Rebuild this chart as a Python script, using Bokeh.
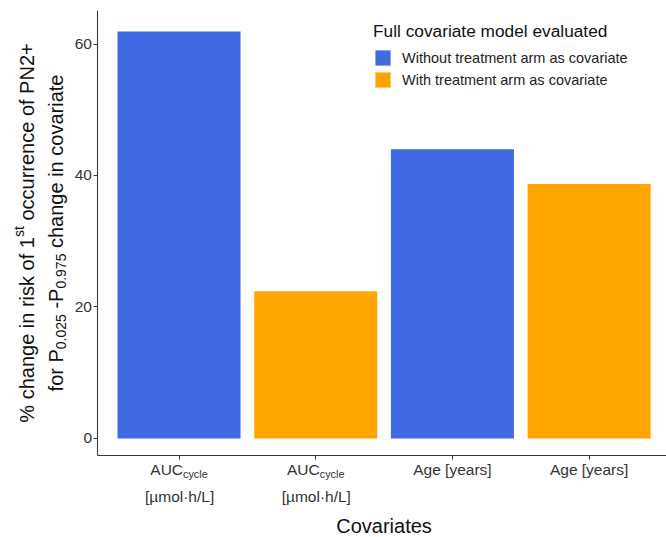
import math
from bokeh.plotting import figure
from bokeh.models import (Range1d, FixedTicker, Label, Legend, LegendItem,
                          ColumnDataSource)
from bokeh.embed import file_html
from bokeh.resources import INLINE

# ---------------- data ----------------
positions = [1, 2, 3, 4]
values = [61.9, 22.4, 44.0, 38.7]
groups = ["Without treatment arm as covariate", "With treatment arm as covariate",
          "Without treatment arm as covariate", "With treatment arm as covariate"]
group_order = ["Without treatment arm as covariate", "With treatment arm as covariate"]
group_colors = ["#4169E1", "#FFA500"]
y_ticks = [0, 20, 40, 60]
# tick labels: list of lines, each line a list of (text, kind) segments
auc_label = [[("AUC", "n"), ("cycle", "sub")], [("[µmol·h/L]", "n")]]
age_label = [[("Age [years]", "n")]]
tick_labels = [auc_label, auc_label, age_label, age_label]
y_title_lines = [
    [("% change in risk of 1", "n"), ("st", "sup"), (" occurrence of PN2+", "n")],
    [("for P", "n"), ("0.025", "sub"), (" -P", "n"), ("0.975", "sub"),
     (" change in covariate", "n")],
]
x_title = "Covariates"
legend_title = "Full covariate model evaluated"

# ---------------- layout ----------------
FONT = "Liberation Sans"
CANVAS_W, CANVAS_H = 666, 537
X_PANEL = (0.4, 4.6)          # ggplot-like panel limits (data)
Y_PANEL = (-2.6, 65.1)
PANEL_LEFT_PX, PANEL_TOP_PX, PANEL_BOTTOM_PX = 96.5, 10.0, 455.0
PX_PER_X = 136.7
PX_PER_Y = (PANEL_BOTTOM_PX - PANEL_TOP_PX) / (Y_PANEL[1] - Y_PANEL[0])
# the frame covers the whole canvas; the panel is a sub-region of it
x_start = X_PANEL[0] - PANEL_LEFT_PX / PX_PER_X
x_end = X_PANEL[0] + (CANVAS_W - PANEL_LEFT_PX) / PX_PER_X
y_end = Y_PANEL[1] + PANEL_TOP_PX / PX_PER_Y
y_start = Y_PANEL[0] - (CANVAS_H - PANEL_BOTTOM_PX) / PX_PER_Y

# Arial / Liberation Sans advance widths (1/1000 em)
W = {' ': 278, '%': 889, '+': 584, '-': 333, '.': 278, '/': 278, '[': 278, ']': 278,
     '·': 278, 'µ': 556,
     'A': 667, 'C': 722, 'F': 611, 'L': 556, 'N': 722, 'P': 667, 'U': 722, 'W': 944,
     'a': 556, 'b': 556, 'c': 500, 'd': 556, 'e': 556, 'f': 278, 'g': 556, 'h': 556,
     'i': 222, 'j': 222, 'k': 500, 'l': 222, 'm': 833, 'n': 556, 'o': 556, 'p': 556,
     'q': 556, 'r': 333, 's': 500, 't': 278, 'u': 556, 'v': 500, 'w': 722, 'x': 500,
     'y': 500, 'z': 500}
for d in "0123456789":
    W[d] = 556


def text_w(s, size):
    return sum(W.get(ch, 556) for ch in s) / 1000.0 * size


SCRIPT = 0.7


def seg_size(kind, base):
    return base * SCRIPT if kind in ("sub", "sup") else base


def seg_shift(kind, base):
    return {"n": 0.0, "sup": 0.42 * base, "sub": -0.27 * base}[kind]


def line_width(segs, base):
    return sum(text_w(t, seg_size(k, base)) for t, k in segs)


def add_rich(p, segs, x, y, base, color, rotated=False, x_off=0.0, y_off=0.0):
    total = line_width(segs, base)
    pos = -total / 2.0
    for t, k in segs:
        sz = seg_size(k, base)
        sh = seg_shift(k, base)
        stripped = t.lstrip(" ")
        lead = text_w(t[:len(t) - len(stripped)], sz)
        if rotated:
            xo, yo, ang = x_off - sh, y_off + pos + lead, math.pi / 2
        else:
            xo, yo, ang = x_off + pos + lead, y_off + sh, 0.0
        p.add_layout(Label(x=x, y=y, x_offset=xo, y_offset=yo, text=stripped,
                           angle=ang, text_align="left", text_baseline="alphabetic",
                           text_font=FONT, text_font_size=f"{sz:.2f}px",
                           text_color=color))
        pos += text_w(t, sz)


p = figure(width=CANVAS_W, height=CANVAS_H, output_backend="svg",
           toolbar_location=None,
           x_range=Range1d(x_start, x_end), y_range=Range1d(y_start, y_end),
           min_border=0)
p.outline_line_color = None
p.xgrid.visible = False
p.ygrid.visible = False
p.background_fill_color = "white"
p.border_fill_color = "white"

renderers = []
for g, c in zip(group_order, group_colors):
    idx = [i for i, gg in enumerate(groups) if gg == g]
    src = ColumnDataSource(dict(x=[positions[i] for i in idx],
                                top=[values[i] for i in idx]))
    r = p.vbar(x="x", top="top", bottom=0, width=0.9, source=src,
               fill_color=c, line_color=None)
    renderers.append(r)

for ax in (p.xaxis[0], p.yaxis[0]):
    ax.axis_line_color = "#3a3a3a"
    ax.axis_line_width = 1.1
    ax.major_tick_line_color = "#3a3a3a"
    ax.major_tick_line_width = 1.1
    ax.major_tick_in = 0
    ax.major_tick_out = 4
    ax.minor_tick_line_color = None

p.xaxis.fixed_location = Y_PANEL[0]
p.xaxis.bounds = X_PANEL
p.xaxis.ticker = FixedTicker(ticks=positions)
p.xaxis.major_label_overrides = {x: "" for x in positions}

p.yaxis.fixed_location = X_PANEL[0]
p.yaxis.bounds = Y_PANEL
p.yaxis.ticker = FixedTicker(ticks=y_ticks)
p.yaxis.major_label_text_font = FONT
p.yaxis.major_label_text_font_size = "15.5px"
p.yaxis.major_label_text_color = "#333333"
p.yaxis.major_label_standoff = 1

# x tick labels
line_offsets = [-14, -41]
for xpos, lines in zip(positions, tick_labels):
    for li, segs in enumerate(lines):
        add_rich(p, segs, xpos, Y_PANEL[0], 15.5, "#333333", y_off=line_offsets[li])

# y-axis title (two centred lines, rotated)
y_mid = (Y_PANEL[0] + Y_PANEL[1]) / 2.0
title_x_offsets = [-70, -41]
for segs, xo in zip(y_title_lines, title_x_offsets):
    add_rich(p, segs, X_PANEL[0], y_mid, 20, "#111111", rotated=True, x_off=xo)

# x-axis title
p.add_layout(Label(x=sum(X_PANEL) / 2.0, y=Y_PANEL[0], y_offset=-70, text=x_title,
                   text_align="center", text_baseline="alphabetic", text_font=FONT,
                   text_font_size="20px", text_color="#111111"))

legend = Legend(items=[LegendItem(label=g, renderers=[r])
                       for g, r in zip(group_order, renderers)],
                location=(373, 448), title=legend_title,
                title_text_font=FONT, title_text_font_size="17.3px",
                title_text_font_style="normal", title_text_color="#111111",
                label_text_font=FONT, label_text_font_size="14.5px",
                label_text_color="#222222", glyph_width=19, glyph_height=19,
                label_height=19, spacing=3, padding=0, margin=0,
                border_line_color=None, background_fill_alpha=0,
                label_standoff=10, title_standoff=6)
p.add_layout(legend)

open("out.html", "w").write(file_html(p, INLINE))
